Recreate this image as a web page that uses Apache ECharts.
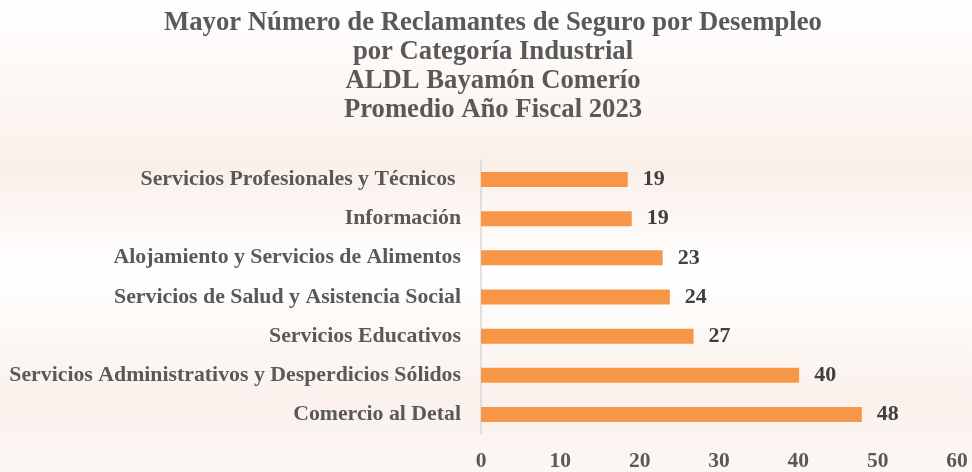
<!DOCTYPE html>
<html>
<head>
<meta charset="utf-8">
<script src="https://cdn.jsdelivr.net/npm/echarts@6/dist/echarts.min.js"></script>
<style>
  html, body { margin: 0; padding: 0; }
  #main { width: 972px; height: 472px; }
</style>
</head>
<body>
<div id="main"></div>
<script>
var chartDom = document.getElementById('main');
var myChart = echarts.init(chartDom);
var option;

// bottom to top, as drawn on the category axis
const categories = [
  'Comercio al Detal',
  'Servicios Administrativos y Desperdicios Sólidos',
  'Servicios Educativos',
  'Servicios de Salud y Asistencia Social',
  'Alojamiento y Servicios de Alimentos',
  'Información',
  'Servicios Profesionales y Técnicos '
];
const values = [48.0, 40.1, 26.8, 23.8, 22.9, 19.0, 18.5];
const xTicks = [0, 10, 20, 30, 40, 50, 60];

const titleLines = [
  'Mayor Número de Reclamantes de Seguro por Desempleo',
  'por Categoría Industrial',
  'ALDL Bayamón Comerío',
  'Promedio Año Fiscal 2023'
];

const serif = '"Liberation Serif", "DejaVu Serif", serif';

option = {
  backgroundColor: new echarts.graphic.LinearGradient(0, 0, 0, 1, [
    { offset: 0, color: '#FFFFFF' },
    { offset: 0.36, color: '#FAF0EA' },
    { offset: 0.57, color: '#FFFFFF' },
    { offset: 0.85, color: '#FAF1EC' },
    { offset: 1, color: '#FCF7F4' }
  ]),
  title: {
    text: titleLines.join('\n'),
    left: 488,
    textAlign: 'center',
    top: 4,
    textStyle: {
      fontFamily: serif,
      fontWeight: 'bold',
      fontSize: 26.7,
      lineHeight: 29,
      color: '#595959'
    }
  },
  grid: {
    left: 481,
    right: 15,
    top: 160,
    bottom: 35,
    containLabel: false
  },
  xAxis: {
    type: 'value',
    min: xTicks[0],
    max: xTicks[xTicks.length - 1],
    interval: 10,
    splitLine: { show: false },
    axisLine: { show: false },
    axisTick: { show: false },
    axisLabel: {
      margin: 16,
      fontFamily: serif,
      fontWeight: 'bold',
      fontSize: 21.5,
      color: '#595959'
    }
  },
  yAxis: {
    type: 'category',
    data: categories,
    axisLine: { show: true, lineStyle: { color: '#D9D9D9', width: 1.5 } },
    axisTick: { show: false },
    axisLabel: {
      margin: 20,
      padding: [4, 0, 0, 0],
      fontFamily: serif,
      fontWeight: 'bold',
      fontSize: 21.8,
      color: '#595959'
    }
  },
  series: [
    {
      type: 'bar',
      data: values,
      barWidth: 15,
      itemStyle: { color: '#F79646' },
      label: {
        show: true,
        position: 'right',
        distance: 15,
        padding: [3, 0, 0, 0],
        formatter: function (p) { return Math.round(p.value); },
        fontFamily: serif,
        fontWeight: 'bold',
        fontSize: 22,
        color: '#404040'
      }
    }
  ]
};

option && myChart.setOption(option);
</script>
</body>
</html>
